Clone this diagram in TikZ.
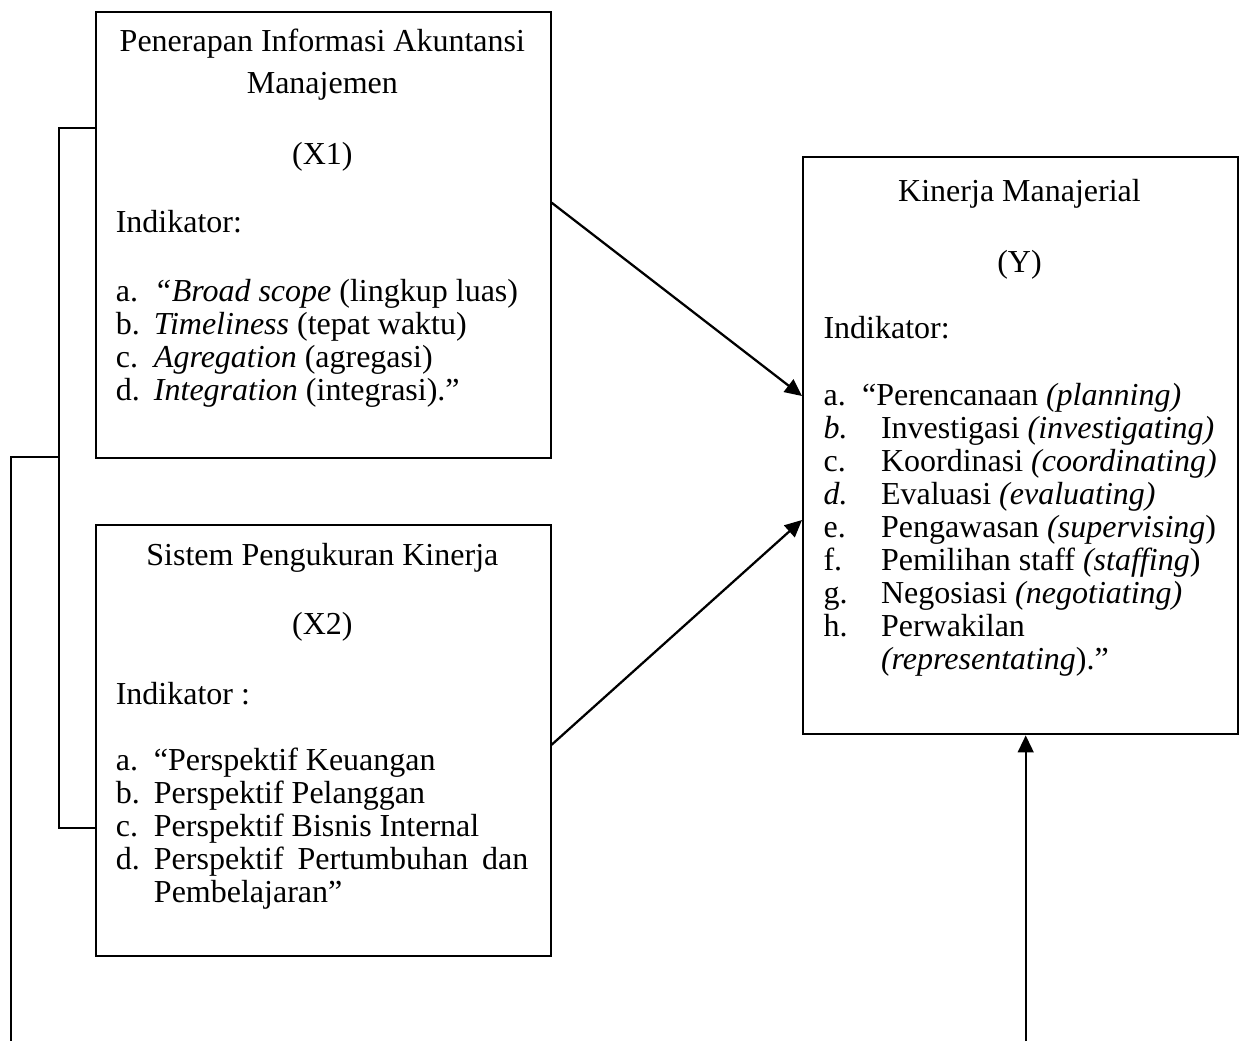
\documentclass[tikz,border=0pt]{standalone}
\usepackage{fontspec}
\setmainfont{Liberation Serif}
\usetikzlibrary{arrows.meta,calc}
\newcommand{\xitem}[2]{\makebox[14.3pt][l]{#1}#2\par}
\newcommand{\yitem}[2]{\makebox[21.56pt][l]{#1}#2\par}
\begin{document}
\begin{tikzpicture}[x=0.375pt,y=-0.375pt,
  box/.style={draw,line width=0.75pt,inner sep=0pt,anchor=north west},
  txt/.style={inner sep=0pt,anchor=base west,font=\fontsize{12pt}{12.4pt}\selectfont},
  ctxt/.style={inner sep=0pt,anchor=base,font=\fontsize{12pt}{12.4pt}\selectfont},
  conn/.style={line width=0.75pt},
  arr/.style={line width=0.85pt,-{Triangle[length=6.4pt,width=5.9pt]}}]
\useasboundingbox (0,0) rectangle (1243,1041);
% boxes
\node[box,minimum width=170.5pt,minimum height=167.25pt] (X1) at (95,10.7) {};
\node[box,minimum width=170.5pt,minimum height=161.4pt] (X2) at (95,524.3) {};
\node[box,minimum width=163.2pt,minimum height=216.5pt] (Y) at (802,156) {};
% X1 texts
\node[ctxt] (x1t1) at (322.35,51) {Penerapan Informasi Akuntansi};
\node[ctxt] (x1t2) at (322.35,93.5) {Manajemen};
\node[ctxt] (x1v) at (322.35,164.5) {(X1)};
\node[txt] (x1i) at (115.3,232) {Indikator:};
\node[txt] (x1l) at (115.3,301.5) {\parbox[t]{160pt}{\fontsize{12pt}{12.4pt}\selectfont
  \xitem{a.}{\textit{“Broad scope} (lingkup luas)}
  \xitem{b.}{\textit{Timeliness} (tepat waktu)}
  \xitem{c.}{\textit{Agregation} (agregasi)}
  \xitem{d.}{\textit{Integration} (integrasi).”}}};
% X2 texts
\node[ctxt] (x2t) at (322.35,565.5) {Sistem Pengukuran Kinerja};
\node[ctxt] (x2v) at (322.35,634.3) {(X2)};
\node[txt] (x2i) at (115.3,704) {Indikator :};
\node[txt] (x2l) at (115.3,770.5) {\parbox[t]{160pt}{\fontsize{12pt}{12.4pt}\selectfont
  \xitem{a.}{“Perspektif Keuangan}
  \xitem{b.}{Perspektif Pelanggan}
  \xitem{c.}{Perspektif Bisnis Internal}
  \xitem{d.}{\makebox[140.4pt][s]{Perspektif\hfill Pertumbuhan\hfill dan}}
  \xitem{}{Pembelajaran”}}};
% Y texts
\node[ctxt] (yt) at (1019.5,201) {Kinerja Manajerial};
\node[ctxt] (yv) at (1019.5,272) {(Y)};
\node[txt] (yi) at (823,338) {Indikator:};
\node[txt] (yl) at (823,405) {\parbox[t]{160pt}{\fontsize{12pt}{12.4pt}\selectfont
  \makebox[14.5pt][l]{a.}“Perencanaan \textit{(planning)}\par
  \yitem{\textit{b.}}{Investigasi \textit{(investigating)}}
  \yitem{c.}{Koordinasi \textit{(coordinating)}}
  \yitem{\textit{d.}}{Evaluasi \textit{(evaluating)}}
  \yitem{e.}{Pengawasan \textit{(supervising})}
  \yitem{f.}{Pemilihan staff \textit{(staffing})}
  \yitem{g.}{Negosiasi \textit{(negotiating)}}
  \yitem{h.}{Perwakilan}
  \yitem{}{\textit{(representating}).”}}};
% bracket connectors
\coordinate (bt) at (58.7,128);
\coordinate (bb) at (58.7,828);
\coordinate (bm) at (58.7,456.7);
\coordinate (ol) at (10.7,456.7);
\coordinate (oe) at (10.7,1041);
\coordinate (ve) at (1025.7,1041);
\draw[conn] (X1.west |- bt) -- (bt) -- (bb) -- (X2.west |- bb);
\draw[conn] (bm) -- (ol) -- (oe);
% arrows
\draw[arr] (X1.east |- 0,202.7) -- (Y.west |- 0,396);
\draw[arr] (X2.east |- 0,744.7) -- (Y.west |- 0,520);
\draw[arr] (ve) -- (Y.south -| ve);
\end{tikzpicture}
\end{document}
